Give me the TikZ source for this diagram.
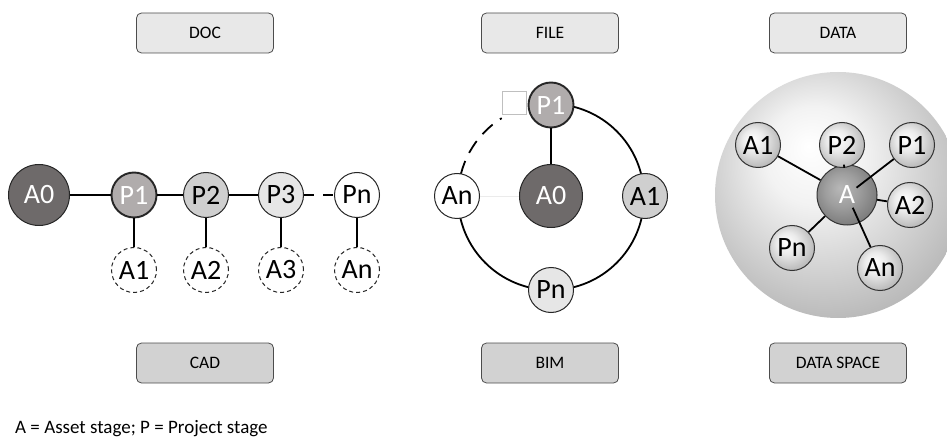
\documentclass[tikz,border=0pt]{standalone}
\usepackage{fontspec}
\setmainfont{Carlito}
\usetikzlibrary{calc}
\definecolor{dkgray}{HTML}{6E6A6A}
\definecolor{pone}{HTML}{B0ACAC}
\definecolor{ptwo}{HTML}{CFCFCF}
\definecolor{pthree}{HTML}{E6E6E6}
\definecolor{boxtop}{HTML}{E8E8E8}
\definecolor{boxbot}{HTML}{D2D2D2}
\pgfdeclareradialshading{spherebg}{\pgfpoint{-6bp}{10bp}}{color(0bp)=(white); color(10bp)=(black!5); color(32bp)=(black!30); color(50bp)=(black!38)}
\pgfdeclareradialshading{smallball}{\pgfpoint{-7bp}{7bp}}{color(0bp)=(white); color(12bp)=(black!8); color(32bp)=(black!32); color(50bp)=(black!38)}
\pgfdeclareradialshading{bigball}{\pgfpoint{-6bp}{6bp}}{color(0bp)=(black!28); color(14bp)=(black!38); color(32bp)=(black!55); color(50bp)=(black!60)}
\tikzset{
  lbl/.style={draw=black!70, rounded corners=5pt, minimum width=137pt, minimum height=40pt, inner sep=0pt, font=\fontsize{17.5}{20}\selectfont, line width=0.8pt},
  topbox/.style={lbl, fill=boxtop},
  botbox/.style={lbl, fill=boxbot},
  stage/.style={circle, draw=black!85, minimum size=45pt, inner sep=0pt, line width=1pt, font=\fontsize{28}{30}\selectfont},
  asset/.style={stage, dashed, dash pattern=on 4pt off 3pt, fill=white},
  thickline/.style={line width=2.2pt},
  midline/.style={line width=1.8pt},
  thinline/.style={line width=1.1pt},
  ball/.style={stage, shading=smallball, draw=black!80},
}
\begin{document}
\begin{tikzpicture}[x=1pt, y=-1pt]
\useasboundingbox (0,0) rectangle (947,438);

% label boxes
\node[topbox] (doc) at (205,33) {DOC};
\node[topbox] (file) at (550,33) {FILE};
\node[topbox] (data) at (838,33) {DATA};
\node[botbox] (cad) at (205,363) {CAD};
\node[botbox] (bim) at (550,363) {BIM};
\node[botbox] (dspace) at (838,363) {DATA SPACE};

% ---------- CAD ----------
\node[stage, minimum size=61pt, fill=dkgray, text=white] (a0l) at (39,195) {A0};
\node[stage, fill=pone, text=white, line width=1.9pt] (p1l) at (134,195) {P1};
\node[stage, fill=ptwo] (p2l) at (206,195) {P2};
\node[stage, fill=pthree] (p3l) at (281,195) {P3};
\node[stage, fill=white] (pnl) at (357,195) {Pn};
\node[asset] (a1l) at (134,270) {A1};
\node[asset] (a2l) at (206,270) {A2};
\node[asset] (a3l) at (281,270) {A3};
\node[asset] (anl) at (357,270) {An};
\draw[thickline] (a0l) -- (p1l);
\draw[midline] (p1l) -- (p2l);
\draw[midline] (p2l) -- (p3l);
\draw[midline, dash pattern=on 10pt off 9pt] (p3l) -- (pnl);
\draw[thinline] (p1l) -- (a1l);
\draw[thinline] (p2l) -- (a2l);
\draw[thinline] (p3l) -- (a3l);
\draw[thinline] (pnl) -- (anl);

% ---------- BIM ----------
\coordinate (bc) at (551,197);
\draw[midline] ($(bc)+(0,-93)$) arc[start angle=270, end angle=540, radius=93];
\draw[midline, dash pattern=on 14pt off 9pt] ($(bc)+(-93,0)$) arc[start angle=180, end angle=238, radius=93];
\draw[draw=black!25, line width=0.5pt] (502,91) rectangle (526,114);
\node[stage, minimum size=63pt, fill=dkgray, text=white] (a0m) at (551,196) {A0};
\node[stage, fill=pone, text=white, line width=1.9pt] (p1m) at (551,105) {P1};
\node[stage, fill=ptwo] (a1m) at (645,196) {A1};
\node[stage, fill=pthree] (pnm) at (551,290) {Pn};
\node[stage, fill=white] (anm) at (457,196) {An};
\draw[thickline] (p1m) -- (a0m);
\draw[draw=black!8, line width=0.8pt] (anm) -- (a0m);

% ---------- DATA SPACE ----------
\begin{scope}
\clip (0,0) rectangle (947,438);
\shade[shading=spherebg] (838,195) circle[radius=123];
\end{scope}
\node[stage, minimum size=60pt, shading=bigball, text=white, draw=black!80] (ar) at (847,195) {A};
\node[ball] (a1r) at (758,145) {A1};
\node[ball] (p2r) at (842,145) {P2};
\node[ball] (p1r) at (912,145) {P1};
\node[ball] (a2r) at (910,205) {A2};
\node[ball] (pnr) at (792,248) {Pn};
\node[ball] (anr) at (880,268) {An};
\draw[midline] (a1r) -- (ar);
\draw[midline] (p2r) -- (ar);
\draw[midline, shorten >=12pt] (p1r) -- (ar.center);
\draw[midline] (ar) -- (a2r);
\draw[midline] (ar) -- (pnr);
\draw[midline, shorten <=14pt] (ar.center) -- (anr);

% caption
\node[anchor=base west, inner sep=0pt, font=\fontsize{19}{22}\selectfont] (cap) at (15,433) {A = Asset stage; P = Project stage};
\end{tikzpicture}
\end{document}
